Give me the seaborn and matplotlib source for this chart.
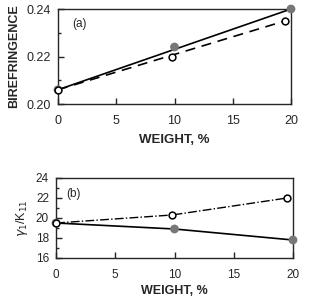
import numpy as np
import pandas as pd
import seaborn as sns
import matplotlib.pyplot as plt
from matplotlib.ticker import MultipleLocator, FormatStrFormatter

# (a) birefringence
w_a_filled = [0, 10, 20]
biref_filled = [0.206, 0.224, 0.240]
w_a_open = [0, 9.8, 19.5]
biref_open = [0.206, 0.220, 0.235]

# (b) gamma1/K11
w_b_open = [0, 9.8, 19.5]
gk_open = [19.5, 20.3, 22.0]
w_b_filled = [0, 10, 20]
gk_filled = [19.5, 18.9, 17.8]

sns.set_style("ticks")
plt.rcParams['font.family'] = ['Liberation Sans', 'DejaVu Sans']

fig = plt.figure(figsize=(3.11, 2.99), dpi=100)
ax1 = fig.add_axes([58/311, 1 - 104/299, 233/311, 95/299])
ax2 = fig.add_axes([56/311, 1 - 258/299, 237/311, 80/299])

# panel a
sns.lineplot(x=[w_a_filled[0], w_a_filled[-1]], y=[biref_filled[0], biref_filled[-1]],
             ax=ax1, color='black', lw=1.2)
sns.lineplot(x=[w_a_open[0], w_a_open[-1]], y=[biref_open[0], biref_open[-1]],
             ax=ax1, color='black', lw=1.2, linestyle=(0, (6, 4)))
sns.scatterplot(x=w_a_filled, y=biref_filled, ax=ax1, color='#777777', s=40,
                edgecolor='none', zorder=3, clip_on=False)
sns.scatterplot(x=w_a_open, y=biref_open, ax=ax1, facecolor='white', edgecolor='black',
                s=24, linewidth=1.1, zorder=4, clip_on=False)
ax1.set_xlim(0, 20)
ax1.set_ylim(0.20, 0.24)
ax1.yaxis.set_major_locator(MultipleLocator(0.02))
ax1.yaxis.set_minor_locator(MultipleLocator(0.01))
ax1.yaxis.set_major_formatter(FormatStrFormatter('%.2f'))
ax1.xaxis.set_major_locator(MultipleLocator(5))
ax1.set_ylabel('BIREFRINGENCE', fontsize=9, fontweight='bold', labelpad=5)
ax1.set_xlabel('WEIGHT, %', fontsize=9.5, fontweight='bold', labelpad=5)
ax1.tick_params(labelsize=9)
ax1.text(1.2, 0.2325, '(a)', fontsize=8.5)

# panel b
sns.lineplot(x=w_b_open, y=gk_open, ax=ax2, color='black', lw=1.0, linestyle='-.')
sns.lineplot(x=w_b_filled, y=gk_filled, ax=ax2, color='black', lw=1.2)
sns.scatterplot(x=w_b_filled, y=gk_filled, ax=ax2, color='#777777', s=40,
                edgecolor='none', zorder=3, clip_on=False)
sns.scatterplot(x=w_b_open, y=gk_open, ax=ax2, facecolor='white', edgecolor='black',
                s=24, linewidth=1.1, zorder=4, clip_on=False)
ax2.set_xlim(0, 20)
ax2.set_ylim(16, 24)
ax2.yaxis.set_major_locator(MultipleLocator(2))
ax2.yaxis.set_minor_locator(MultipleLocator(1))
ax2.xaxis.set_major_locator(MultipleLocator(5))
ax2.set_ylabel(r'$\gamma_1$/K$_{11}$', fontsize=9)
ax2.set_xlabel('WEIGHT, %', fontsize=9, fontweight='bold', labelpad=3)
ax2.tick_params(labelsize=8.5)

for ax in (ax1, ax2):
    for s in ax.spines.values():
        s.set_visible(True)
        s.set_linewidth(1.0)
    ax.tick_params(which='both', direction='in', width=1)
    ax.tick_params(which='major', length=4)
    ax.tick_params(which='minor', length=2)
    ax.tick_params(axis='x', pad=8)
    ax.tick_params(axis='y', pad=5)

ax2.text(0.9, 22.1, '(b)', fontsize=8.5)

fig.savefig('out.png', dpi=100)
